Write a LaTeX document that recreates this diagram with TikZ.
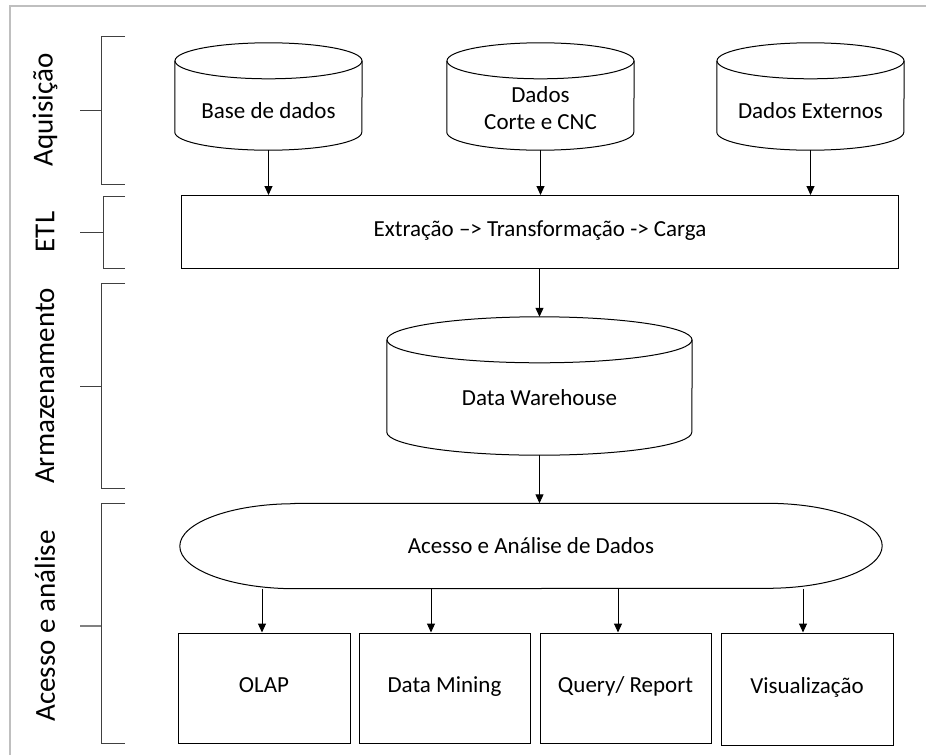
\documentclass[tikz,border=0pt]{standalone}
\usepackage{fontspec}
\setmainfont{Carlito}
\usetikzlibrary{arrows.meta}
\tikzset{
  db/.style={minimum width=187pt, minimum height=107pt, inner sep=0pt},
  dbtext/.style={align=center, font=\fontsize{23}{27}\selectfont},
  bx/.style={draw, line width=1pt, inner sep=0pt, text height=0.9em, text depth=0.1em,
    font=\fontsize{23}{27}\selectfont},
  arr/.style={-{Triangle[length=9pt,width=8pt]}, line width=1pt},
  side/.style={rotate=90, font=\fontsize{29}{33}\selectfont},
  brk/.style={line width=1pt, black!75}
}
% contorno de cilindro: nome, raio x, raio y
\newcommand\dbshape[3]{%
  \draw[line width=1pt] ([yshift=-#3]#1.north) ellipse [x radius=#2, y radius=#3];
  \draw[line width=1pt] ([yshift=-#3]#1.north west) -- ([yshift=#3]#1.south west)
    arc[start angle=180, end angle=360, x radius=#2, y radius=#3] -- ([yshift=-#3]#1.north east);
}
\begin{document}
\begin{tikzpicture}[x=1pt,y=-1pt]
	\useasboundingbox (0,0) rectangle (926,755);
	\draw[gray!50, line width=1.5pt] (10,755) -- (10,6) -- (926,6);
	% camadas
	\draw[brk] (125,36) -- (101,36) -- (101,184) -- (125,184);
	\draw[brk] (80,110) -- (101,110);
	\node[side] (acq) at (45,110) {Aquisição};
	\draw[brk] (125,196) -- (103,196) -- (103,268) -- (125,268);
	\draw[brk] (80,232) -- (103,232);
	\node[side] (etllab) at (45,232) {ETL};
	\draw[brk] (125,283) -- (101,283) -- (101,488) -- (125,488);
	\draw[brk] (80,386) -- (101,386);
	\node[side] (arm) at (45,386) {Armazenamento};
	\draw[brk] (125,503) -- (101,503) -- (101,743) -- (125,743);
	\draw[brk, line width=2pt, gray] (80,626) -- (101,626);
	\node[side] (ace) at (45,626) {Acesso e análise};
	% fontes
	\node[db, label={[dbtext, yshift=-14pt]center:Base de dados}] (base) at (268.5,96.5) {};
	\node[db, label={[dbtext, yshift=-12pt]center:Dados\\Corte e CNC}] (cnc) at (540.5,96.5) {};
	\node[db, label={[dbtext, yshift=-14pt]center:Dados Externos}] (ext) at (810.5,96.5) {};
	\dbshape{base}{93.5pt}{18pt}
	\dbshape{cnc}{93.5pt}{18pt}
	\dbshape{ext}{93.5pt}{18pt}
	\node[bx, minimum width=717pt, minimum height=73pt] (etl) at (540,232) {Extração –> Transformação -> Carga};
	\draw[arr] (base.south) -- (etl.north -| base.south);
	\draw[arr] (cnc.south) -- (etl.north -| cnc.south);
	\draw[arr] (ext.south) -- (etl.north -| ext.south);
	% armazenamento
	\node[db, minimum width=305pt, minimum height=138pt,
	  label={[dbtext, yshift=-12pt]center:Data Warehouse}] (dw) at (539.5,386) {};
	\dbshape{dw}{152.5pt}{23pt}
	\draw[arr] (etl.south -| dw.north) -- (dw.north);
	\node[minimum width=702pt, minimum height=85pt, inner sep=0pt,
	  font=\fontsize{23}{27}\selectfont] (acc) at (531,546) {Acesso e Análise de Dados};
	\draw[line width=1pt] ([xshift=115pt]acc.north west) -- ([xshift=-115pt]acc.north east)
	  arc[start angle=90, end angle=-90, x radius=115pt, y radius=42.5pt]
	  -- ([xshift=115pt]acc.south west)
	  arc[start angle=270, end angle=90, x radius=115pt, y radius=42.5pt] -- cycle;
	\draw[arr] (dw.south) -- (acc.north -| dw.south);
	% ferramentas
	\node[bx, minimum width=172pt, minimum height=110pt] (olap) at (264,688) {OLAP};
	\node[bx, minimum width=171pt, minimum height=110pt] (dm) at (444.5,688) {Data Mining};
	\node[bx, minimum width=171pt, minimum height=110pt] (qr) at (625.5,688) {Query/ Report};
	\node[bx, minimum width=172pt, minimum height=112pt] (vis) at (807,689) {Visualização};
	\draw[arr] ([xshift=-2pt]olap.north |- acc.south) -- ([xshift=-2pt]olap.north);
	\draw[arr] ([xshift=-13.5pt]dm.north |- acc.south) -- ([xshift=-13.5pt]dm.north);
	\draw[arr] ([xshift=-7.5pt]qr.north |- acc.south) -- ([xshift=-7.5pt]qr.north);
	\draw[arr] ([xshift=-4pt]vis.north |- acc.south) -- ([xshift=-4pt]vis.north);
\end{tikzpicture}
\end{document}
